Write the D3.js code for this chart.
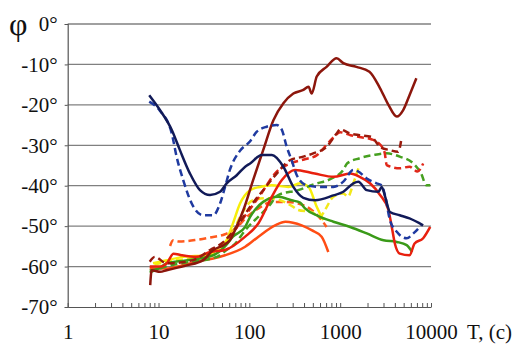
<!DOCTYPE html>
<html>
<head>
<meta charset="utf-8">
<script src="https://cdn.jsdelivr.net/npm/d3@7/dist/d3.min.js"></script>
<style>
  html, body { margin: 0; padding: 0; background: #fff; }
  svg { display: block; }
</style>
</head>
<body>
<svg id="chart" width="520" height="347"></svg>
<script>
// Period T (s) on a log axis, phase φ in degrees.
const yTicks = [-70, -60, -50, -40, -30, -20, -10, 0];
const xDecades = [1, 10, 100, 1000, 10000];

// Each curve: [T, φ] pairs
const navySolid = [[7.9,-17.6],[10.4,-21.3],[14,-26.2],[17.2,-31.2],[22.2,-37],[28.6,-41.1],[36.9,-42.3],[47.6,-41.5],[56.3,-39.4],[72.6,-37.4],[90,-35.3],[102,-34.5],[137,-32.4],[177,-32.4],[237,-35.3],[305,-40.3],[393,-43],[530,-43.6],[842,-42.4],[1084,-41.5],[1397,-39.4],[1585,-39],[1963,-41.1],[2633,-41.5],[2869,-40.3],[3124,-42.7],[3533,-46.5],[4530,-47.3],[5800,-48.1],[8200,-49.8]];
const blueDashed = [[7.9,-19.2],[10.4,-21.5],[14,-27.1],[15.8,-32.8],[18.7,-38.6],[23.2,-44.4],[31,-47.3],[40,-47.3],[47.6,-44.4],[54,-40.3],[61,-36.1],[78,-31.5],[102,-29],[120,-26.7],[155,-25.4],[200,-25],[228,-26.2],[258,-30.4],[292,-33.7],[333,-37.4],[426,-39.9],[600,-40.3],[842,-40.3],[1084,-39],[1397,-36.1],[1585,-36.5],[1963,-38.2],[2512,-39.4],[2869,-39.9],[3124,-42.5],[3533,-48.5],[4200,-51.4],[5400,-53],[6400,-51.8],[7800,-49.8]];
const maroonSolid = [[8.1,-64.6],[8.4,-60.9],[10.4,-61.3],[12.3,-60.9],[20.4,-59.7],[31,-58.4],[40,-55.9],[52,-54.7],[61,-53.5],[72,-50.2],[86,-46],[110,-38.6],[142,-31.2],[184,-23.8],[237,-19.6],[305,-17.2],[393,-16.3],[448,-15.5],[486,-17.2],[552,-13],[708,-10.6],[914,-8.5],[1084,-9.7],[1509,-10.6],[2100,-11.8],[2750,-15.9],[3400,-20],[4200,-22.9],[4940,-21.3],[5800,-17.6],[6900,-13.4]];
const maroonDashed = [[8,-58.8],[9.1,-57.6],[12.3,-59.2],[24,-58.4],[37,-55.9],[52,-53.9],[72,-50.2],[102,-45.2],[142,-41.1],[200,-37],[280,-33.7],[393,-32.8],[505,-32],[708,-30.4],[914,-27.1],[1000,-26.1],[1288,-27.1],[1640,-27.5],[2200,-27.9],[2750,-30.4],[3530,-31.2],[4360,-31.6],[4730,-28.3]];
const redDashed = [[60,-53],[80,-49],[100,-46],[130,-42.5],[200,-36.5],[280,-34.5],[400,-33.5],[550,-32.5],[700,-30],[850,-28],[1000,-26.8],[1300,-27.5],[1700,-28],[2200,-28.5],[2800,-30],[3100,-32],[3250,-34.9],[4530,-35.7],[5800,-35.3],[7100,-36.5],[8200,-34.5]];
const redSolid = [[8,-60],[10.4,-60],[12.5,-59],[14.6,-56.8],[18,-57.2],[26,-57.6],[37,-56.4],[54,-55.9],[90,-52.6],[126,-49.3],[177,-42.7],[228,-38.6],[318,-36.1],[525,-37],[842,-37.8],[1288,-37],[1640,-37.8],[2130,-39.4],[2750,-42.3],[3400,-46],[3700,-50.2],[4000,-54.3],[4530,-56.8],[5800,-57.2],[6600,-54.3],[8200,-53],[9800,-50.2]];
const orangeSolid = [[8,-60.4],[12,-60.5],[20,-59.5],[30,-58.5],[40,-58],[54,-57.2],[90,-55.1],[126,-52.6],[192,-49.8],[250,-48.9],[377,-49.8],[485,-51],[625,-52.6],[740,-56.4]];
const orangeDashed = [[13.4,-54.9],[14.5,-53.5],[17,-53.8],[26,-53.4],[37,-52.8],[54,-52],[72,-50.5],[90,-48.1],[126,-45.6],[177,-44],[250,-44],[345,-44.4],[485,-46],[625,-48.5],[708,-50.2]];
const greenSolid = [[8,-61],[10,-60.5],[12.3,-59.2],[20,-58.5],[40,-57.2],[54,-55],[66,-52.6],[90,-50.2],[102,-47.7],[115,-46],[142,-44],[208,-42.7],[292,-43.6],[362,-44.2],[410,-45.6],[575,-47.5],[842,-48.9],[1288,-50.2],[1963,-51.8],[3000,-53.5],[4200,-53.9],[5400,-54.7],[6200,-56.4]];
const greenDashed = [[8,-61.5],[12,-60],[20,-59],[44,-57.6],[56,-55.9],[70,-54.3],[90,-51],[115,-48.5],[162,-45.2],[208,-42.3],[345,-41.1],[525,-39.6],[805,-38.2],[1084,-36.1],[1190,-34.5],[1640,-33.2],[2340,-32.4],[3250,-32],[4530,-32.8],[6400,-34.5],[7800,-37],[8900,-39.9],[9800,-39.9]];
const yellowSolid = [[8.7,-59.2],[12,-58.5],[18.7,-57.6],[34,-57.2],[45,-55.5],[56,-53.5],[66,-49.3],[79,-44.4],[102,-41.1],[130,-40.3],[177,-39.9],[270,-40.3],[362,-39.4],[448,-40.3],[552,-45.2],[650,-48.5]];
const yellowDashed = [[9,-59.5],[15,-58.5],[30,-57.5],[50,-55.5],[66,-51.5],[79,-47.7],[110,-43.6],[155,-43.1],[218,-43.6],[292,-45],[345,-46],[480,-46.5],[600,-47.7],[680,-46],[842,-42.7],[1084,-41.9],[1220,-42.7],[1397,-39.4],[1585,-35.7]];

const curves = [
  { data: orangeSolid,  color: "#ff4d14", dash: null },
  { data: orangeDashed, color: "#ff5a1e", dash: "7,4" },
  { data: yellowDashed, color: "#f2e81a", dash: "7,4" },
  { data: yellowSolid,  color: "#f7ee0a", dash: null },
  { data: greenSolid,   color: "#3a9a18", dash: null },
  { data: greenDashed,  color: "#46a020", dash: "7,4" },
  { data: redSolid,     color: "#e8200e", dash: null },
  { data: redDashed,    color: "#e0281a", dash: "7,4" },
  { data: maroonDashed, color: "#9a1a0c", dash: "7,4" },
  { data: maroonSolid,  color: "#8c160c", dash: null },
  { data: blueDashed,   color: "#1f3aa0", dash: "7,4" },
  { data: navySolid,    color: "#111a58", dash: null }
];

const SERIF = "Liberation Serif";

const svg = d3.select("#chart");
const x = d3.scaleLog().domain([1, 10000]).range([67.7, 431]);
const y = d3.scaleLinear().domain([-70, 0]).range([307, 24]);

// horizontal grid
svg.append("g")
  .selectAll("line")
  .data(yTicks.filter(v => v > -70))
  .join("line")
  .attr("x1", x(1)).attr("x2", x(10000))
  .attr("y1", d => y(d)).attr("y2", d => y(d))
  .attr("stroke", "#808080").attr("stroke-width", 1.3);

// y axis
const yAxis = d3.axisLeft(y)
  .tickValues(yTicks)
  .tickSize(3)
  .tickPadding(7)
  .tickFormat(d => d + "°");
const gy = svg.append("g").attr("transform", `translate(${x(1)},0)`).call(yAxis);
gy.select(".domain").attr("stroke", "#555").attr("stroke-width", 1.2);
gy.selectAll(".tick line").attr("stroke", "#555");
gy.selectAll(".tick text")
  .style("font-family", SERIF).style("font-size", "21px").attr("fill", "#111");

// x axis: minor ticks on every integer multiple, labels on decades
const minorTicks = [];
for (const dec of [1, 10, 100, 1000]) for (let k = 1; k < 10; k++) minorTicks.push(dec * k);
minorTicks.push(10000);
const xAxis = d3.axisBottom(x)
  .tickValues(minorTicks)
  .tickSizeInner(-4)
  .tickSizeOuter(0)
  .tickPadding(17)
  .tickFormat(d => xDecades.includes(d) ? String(d) : "");
const gx = svg.append("g").attr("transform", `translate(0,${y(-70)})`).call(xAxis);
gx.select(".domain").attr("stroke", "#555").attr("stroke-width", 1.2);
gx.selectAll(".tick line").attr("stroke", "#555");
gx.selectAll(".tick text")
  .style("font-family", SERIF).style("font-size", "21px").attr("fill", "#111");

// axis titles
svg.append("text").attr("x", 467).attr("y", 339)
  .style("font-family", SERIF).style("font-size", "21px").attr("fill", "#111").text("T, (c)");
svg.append("text").attr("x", 9).attr("y", 35)
  .style("font-family", SERIF).style("font-size", "32px").attr("fill", "#111").text("φ");

// curves
const line = d3.line()
  .x(d => x(d[0]))
  .y(d => y(d[1]))
  .curve(d3.curveMonotoneX);

svg.append("g")
  .selectAll("path")
  .data(curves)
  .join("path")
  .attr("d", d => line(d.data))
  .attr("fill", "none")
  .attr("stroke", d => d.color)
  .attr("stroke-width", 2.5)
  .attr("stroke-linejoin", "round")
  .attr("stroke-dasharray", d => d.dash);
</script>
</body>
</html>
